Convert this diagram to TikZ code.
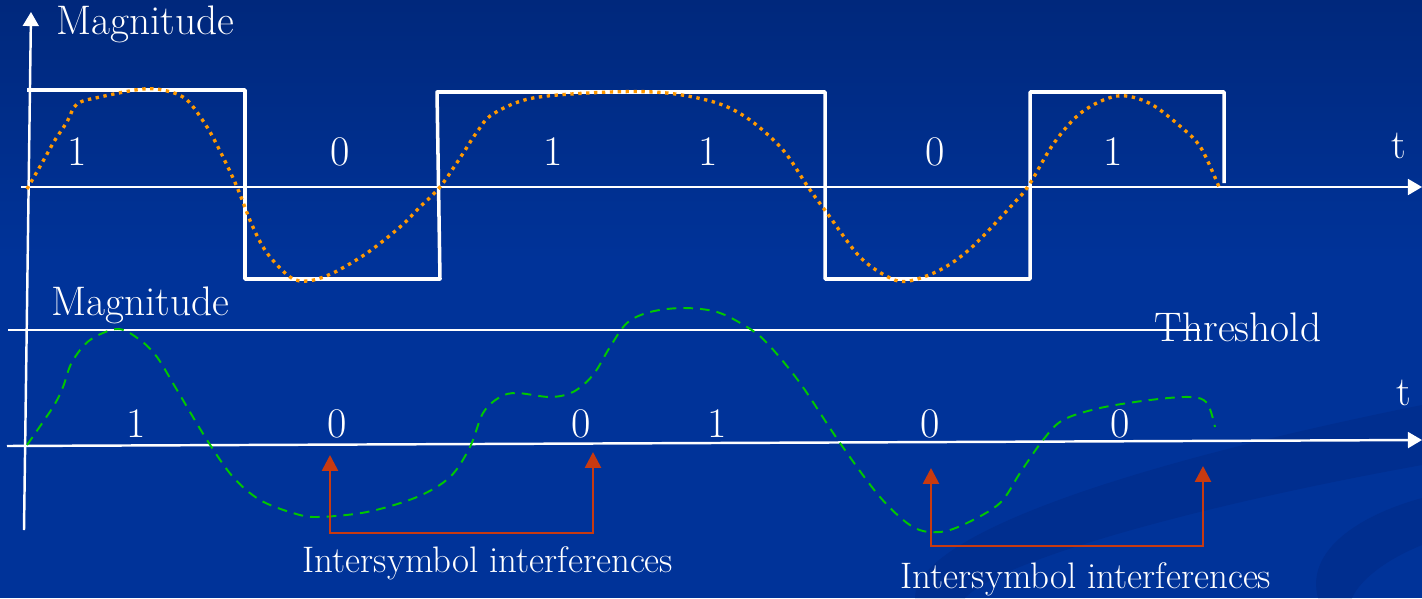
\documentclass[tikz,border=0pt]{standalone}
\usepackage{amsmath, amssymb}
\usepackage{tikz}
\usetikzlibrary{arrows.meta}

\definecolor{slideblue}{RGB}{0,51,153}
\definecolor{slidetop}{RGB}{0,40,124}
\definecolor{swoosh}{RGB}{0,46,143}
\definecolor{pulseorange}{RGB}{255,153,0}
\definecolor{rxgreen}{RGB}{0,200,0}
\definecolor{isired}{RGB}{200,58,16}

\begin{document}
\begin{tikzpicture}[x=0.02cm, y=-0.02cm]
  % Define styles
  \tikzstyle{axis} = [draw=white, line width=1.4pt, -{Triangle[width=9pt,length=8pt]}]
  \tikzstyle{pulse} = [draw=white, line width=2pt, line join=round]
  \tikzstyle{txdot} = [draw=pulseorange, line width=1.9pt, dash pattern=on 1.9pt off 2.6pt]
  \tikzstyle{rxdash} = [draw=rxgreen, line width=1.1pt, dash pattern=on 5.5pt off 4pt]
  \tikzstyle{isi} = [draw=isired, line width=1.5pt, {Triangle[width=9pt,length=9pt]}-{Triangle[width=9pt,length=9pt]}]
  \tikzstyle{label} = [text=white, inner sep=0pt, anchor=base, font=\fontsize{23.5}{28}\selectfont]
  \tikzstyle{bit} = [text=white, inner sep=0pt, anchor=base, font=\fontsize{24}{28}\selectfont]
  \tikzstyle{note} = [text=white, inner sep=0pt, anchor=base, font=\fontsize{21}{25}\selectfont]

  % Background
  \useasboundingbox (0,0) rectangle (1422,598);
  \fill[slideblue] (0,0) rectangle (1422,598);
  \shade[top color=slidetop, bottom color=slideblue] (0,0) rectangle (1422,260);
  \fill[swoosh] (915,598) .. controls (915,540) and (1100,470) .. (1422,405)
    -- (1422,465) .. controls (1200,505) and (1000,560) .. (965,598) -- cycle;
  \fill[swoosh] (1318,598) .. controls (1305,550) and (1360,515) .. (1422,498)
    -- (1422,545) .. controls (1385,560) and (1360,580) .. (1352,598) -- cycle;

  % Axes
  \coordinate (yfoot) at (24,530);
  \coordinate (ytip) at (31,12);
  \coordinate (txstart) at (21,187);
  \coordinate (txend) at (1422,187);
  \coordinate (rxstart) at (7,446);
  \coordinate (rxend) at (1422,440);
  \coordinate (thstart) at (8,330);
  \coordinate (thend) at (1200,330);
  \draw[axis] (yfoot) -- (ytip);
  \draw[axis] (txstart) -- (txend);
  \draw[axis] (rxstart) -- (rxend);
  \draw[draw=white, line width=1.2pt] (thstart) -- (thend);

  % Transmitted pulses
  \draw[pulse] (27,90) -- (245,90) -- (245,279) -- (440,279) -- (437,92) -- (825,92)
    -- (825,279) -- (1030,279) -- (1030,92) -- (1224,92) -- (1224,183);
  \draw[txdot] plot[smooth, tension=0.55] coordinates {(27,189) (42,163) (55,140) (67,122)
    (77,104) (100,97) (143,89) (167,91) (187,100) (207,127) (222,155) (237,187)
    (252,225) (267,253) (290,277) (308,281) (333,273) (367,253) (400,227) (420,207)
    (440,187) (460,158) (477,132) (493,114) (533,98) (610,92) (667,93) (717,103)
    (750,120) (783,150) (808,187) (827,213) (860,257) (890,278) (909,281) (940,270)
    (971,248) (1014,203) (1029,185) (1054,143) (1082,112) (1117,96) (1149,103)
    (1181,127) (1201,148) (1219,187)};

  % Received signal
  \draw[rxdash] plot[smooth, tension=0.55] coordinates {(27,445) (53,407) (63,387)
    (72,362) (90,340) (118,329) (140,340) (157,357) (177,390) (207,440) (233,477)
    (260,500) (293,513) (317,517) (367,512) (417,497) (450,477) (470,447) (483,413)
    (500,397) (517,393) (550,397) (573,392) (593,375) (610,347) (627,323) (650,312)
    (683,308) (717,312) (747,327) (767,343) (800,383) (840,443) (880,497) (913,527)
    (940,532) (967,523) (1000,503) (1020,473) (1043,440) (1063,420) (1100,408)
    (1150,400) (1190,397) (1207,403) (1215,427)};

  % Labels
  \node[label] (magtx) at (145,35) {Magnitude};
  \node[label] (magrx) at (140,315) {Magnitude};
  \node[label] (ttx) at (1399,158) {t};
  \node[label] (trx) at (1404,405) {t};
  \node[label] (thresh) at (1238,341) {Threshold};

  % Sent bits
  \node[bit] (sa) at (77,165) {1};
  \node[bit] (sb) at (340,165) {0};
  \node[bit] (sc) at (553,165) {1};
  \node[bit] (sd) at (708,165) {1};
  \node[bit] (se) at (935,165) {0};
  \node[bit] (sf) at (1113,165) {1};

  % Received bits
  \node[bit] (ra) at (136,437) {1};
  \node[bit] (rb) at (337,437) {0};
  \node[bit] (rc) at (581,437) {0};
  \node[bit] (rd) at (717,437) {1};
  \node[bit] (re) at (930,437) {0};
  \node[bit] (rf) at (1120,437) {0};

  % Intersymbol interference markers
  \coordinate (isiAtip) at (330,455);
  \coordinate (isiAbot) at (330,533);
  \coordinate (isiBbot) at (593,533);
  \coordinate (isiBtip) at (593,452);
  \coordinate (isiCtip) at (931,468);
  \coordinate (isiCbot) at (931,546);
  \coordinate (isiDbot) at (1203,546);
  \coordinate (isiDtip) at (1203,466);
  \draw[isi] (isiAtip) -- (isiAbot) -- (isiBbot) -- (isiBtip);
  \draw[isi] (isiCtip) -- (isiCbot) -- (isiDbot) -- (isiDtip);
  \node[note] (isileft) at (488,572) {Intersymbol interferences};
  \node[note] (isiright) at (1086,588) {Intersymbol interferences};

\end{tikzpicture}
\end{document}
